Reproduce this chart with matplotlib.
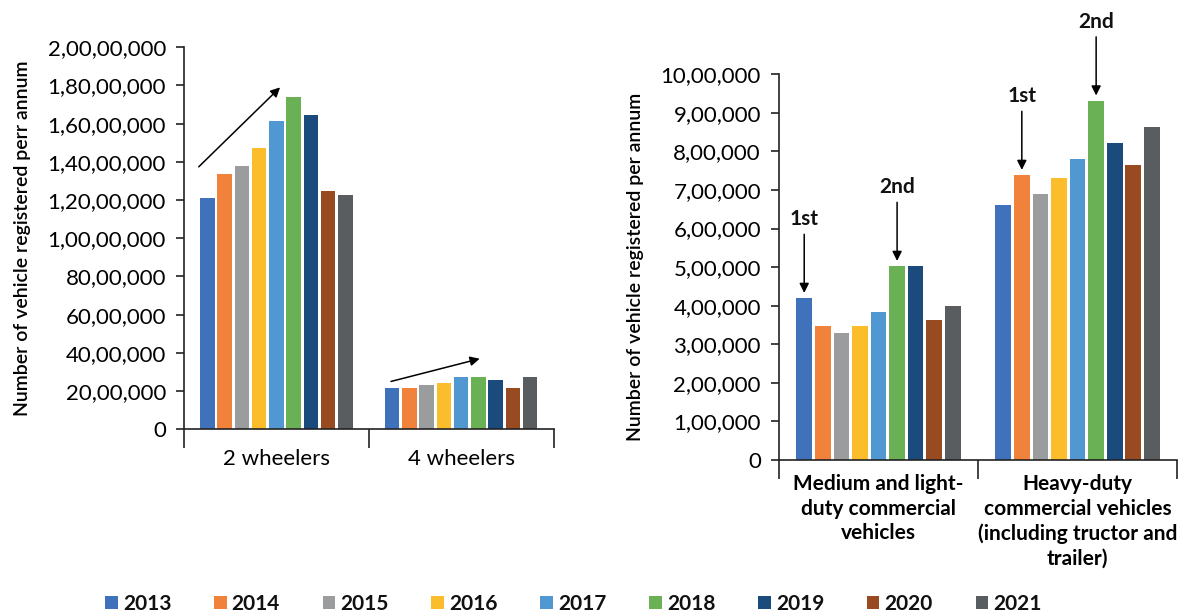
import matplotlib.pyplot as plt
import numpy as np
from matplotlib.patches import Patch
from matplotlib.ticker import FuncFormatter, MultipleLocator

plt.rcParams['font.family'] = ['Lato', 'DejaVu Sans']
plt.rcParams['text.color'] = '#111111'

years = ['2013', '2014', '2015', '2016', '2017', '2018', '2019', '2020', '2021']
colors = ['#3F72BA', '#F0823C', '#9A9C9D', '#FCBD2C', '#5198D3',
          '#6AB155', '#1B4A7C', '#984B20', '#5A5D5F']

# registrations per year, passenger segments
pass_cats = ['2 wheelers', '4 wheelers']
two_wheelers = [12090000, 13350000, 13770000, 14750000, 16150000,
                17410000, 16430000, 12490000, 12250000]
four_wheelers = [2150000, 2150000, 2290000, 2430000, 2710000,
                 2710000, 2570000, 2150000, 2710000]

# registrations per year, commercial segments
comm_cats = ['Medium and light-\nduty commercial\nvehicles',
             'Heavy-duty\ncommercial vehicles\n(including tructor and\ntrailer)']
mlcv = [419000, 348000, 328000, 348000, 384000, 502000, 502000, 364000, 398000]
hcv = [662000, 738000, 690000, 731000, 780000, 931000, 822000, 765000, 864000]


def indian_fmt(v, pos=None):
    s = str(int(round(v)))
    if len(s) <= 3:
        return s
    head, tail = s[:-3], s[-3:]
    parts = []
    while len(head) > 2:
        parts.insert(0, head[-2:])
        head = head[:-2]
    if head:
        parts.insert(0, head)
    return ','.join(parts + [tail])


group_w = 0.84
slot = group_w / len(years)
bar_w = slot * 0.84
offsets = (np.arange(len(years)) - (len(years) - 1) / 2) * slot


def draw_groups(ax, series, cats, xpad, xsize, xweight):
    for i, yr in enumerate(years):
        vals = [s[i] for s in series]
        ax.bar(np.arange(len(cats)) + offsets[i], vals, width=bar_w,
               color=colors[i], zorder=2)
    ax.set_xlim(-0.5, len(cats) - 0.5)
    ax.set_xticks(np.arange(len(cats)))
    ax.set_xticklabels(cats, fontsize=xsize, fontweight=xweight,
                       linespacing=1.3)
    ax.set_xticks(np.arange(len(cats) + 1) - 0.5, minor=True)
    ax.tick_params(axis='x', which='major', length=0, pad=xpad)
    ax.tick_params(axis='x', which='minor', length=14, width=1.2,
                   direction='out', color='#222222')
    ax.tick_params(axis='y', length=6, width=1.2, color='#222222',
                   labelsize=16, pad=7)
    ax.yaxis.set_major_formatter(FuncFormatter(indian_fmt))
    for side in ('top', 'right'):
        ax.spines[side].set_visible(False)
    for side in ('left', 'bottom'):
        ax.spines[side].set_linewidth(1.2)
        ax.spines[side].set_color('#222222')


fig = plt.figure(figsize=(11.83, 6.14), dpi=100)

ax1 = fig.add_axes([0.1555, 0.301, 0.3125, 0.622])
draw_groups(ax1, [two_wheelers, four_wheelers], pass_cats, 14, 16, 'normal')
ax1.set_ylim(0, 20000000)
ax1.yaxis.set_major_locator(MultipleLocator(2000000))
ax1.set_ylabel('Number of vehicle registered perr annum', fontsize=14,
               fontweight='semibold', labelpad=12)

# growth trend arrows
arrow_kw = dict(arrowstyle='-|>', color='black', lw=1.1,
                mutation_scale=14, shrinkA=0, shrinkB=0)
ax1.annotate('', xy=(0.02, 17900000), xytext=(-0.42, 13740000),
             arrowprops=arrow_kw)
ax1.annotate('', xy=(1.10, 3690000), xytext=(0.62, 2500000),
             arrowprops=arrow_kw)

ax2 = fig.add_axes([0.6585, 0.251, 0.3365, 0.628])
draw_groups(ax2, [mlcv, hcv], comm_cats, 10, 15, 'bold')
ax2.set_ylim(0, 1000000)
ax2.yaxis.set_major_locator(MultipleLocator(100000))
ax2.set_ylabel('Number of vehicle registered per annum', fontsize=14,
               fontweight='semibold', labelpad=12)

# ranking markers above selected bars
ranks = [(0, 0, '1st'), (0, 5, '2nd'), (1, 1, '1st'), (1, 5, '2nd')]
for cat, yi, label in ranks:
    val = [mlcv, hcv][cat][yi]
    x = cat + offsets[yi]
    tip = val + 14000
    ax2.annotate('', xy=(x, tip), xytext=(x, tip + 152000),
                 arrowprops=arrow_kw, annotation_clip=False)
    ax2.text(x, tip + 165000, label, ha='center', va='bottom',
             fontsize=15, fontweight='bold', clip_on=False)

handles = [Patch(facecolor=c, label=y) for c, y in zip(colors, years)]
fig.legend(handles=handles, loc='lower left', bbox_to_anchor=(0.073, -0.03),
           ncol=9, frameon=False,
           prop={'size': 15, 'weight': 'bold'}, handlelength=0.6,
           handleheight=0.6, handletextpad=0.25, columnspacing=2.05)

fig.savefig('out.png', dpi=100, facecolor='white')
